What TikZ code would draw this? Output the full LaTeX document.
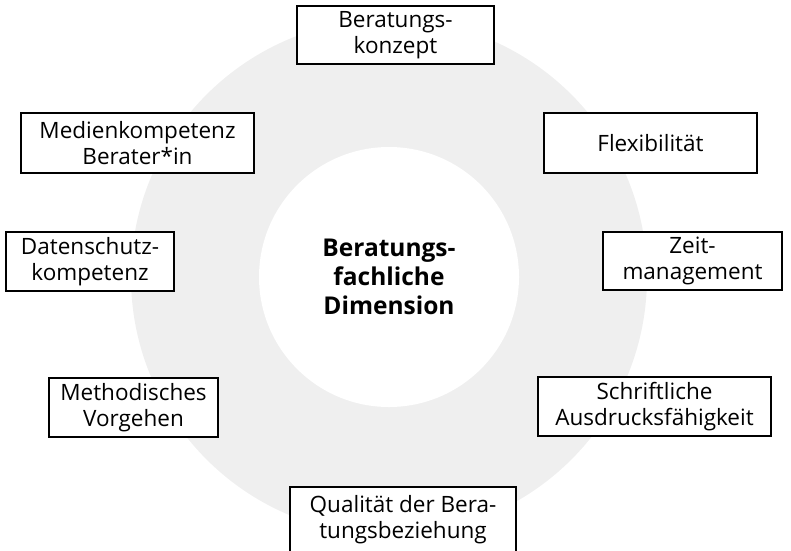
\documentclass[tikz,border=0pt]{standalone}
\usepackage{fontspec}
\setmainfont{Open Sans}
\definecolor{ringgray}{RGB}{239,239,239}
\tikzset{
  lbl/.style={draw=black, line width=1.3pt, fill=white, inner sep=0pt, align=center,
    font=\fontsize{22.5}{26}\selectfont},
  center/.style={align=center, inner sep=0pt, font=\bfseries\fontsize{24.5}{29}\selectfont}
}
\begin{document}
\begin{tikzpicture}[x=1pt,y=-1pt]
\useasboundingbox (0,0) rectangle (791,550);
\clip (0,0) rectangle (791,550);
\fill[ringgray] (389,277) circle[radius=258];
\fill[white] (389,277) circle[radius=130];
\node[center] (c) at (389,277) {Beratungs-\\fachliche\\Dimension};
\node[lbl, minimum width=197, minimum height=58] (konzept) at (395.5,35) {Beratungs-\\konzept};
\node[lbl, minimum width=233, minimum height=60] (medien) at (137.5,143) {Medienkompetenz\\Berater*in};
\node[lbl, minimum width=213, minimum height=60] (flex) at (650.5,143) {Flexibilität};
\node[lbl, minimum width=168, minimum height=59] (daten) at (90,261.5) {Datenschutz-\\kompetenz};
\node[lbl, minimum width=179, minimum height=58] (zeit) at (692.5,261) {Zeit-\\management};
\node[lbl, minimum width=169, minimum height=59] (method) at (133.5,407.5) {Methodisches\\Vorgehen};
\node[lbl, minimum width=233, minimum height=59] (schrift) at (654.5,406.5) {Schriftliche\\Ausdrucksfähigkeit};
\node[lbl, minimum width=226, minimum height=66] (qual) at (403,520) {Qualität der Bera-\\tungsbeziehung};
\end{tikzpicture}
\end{document}
